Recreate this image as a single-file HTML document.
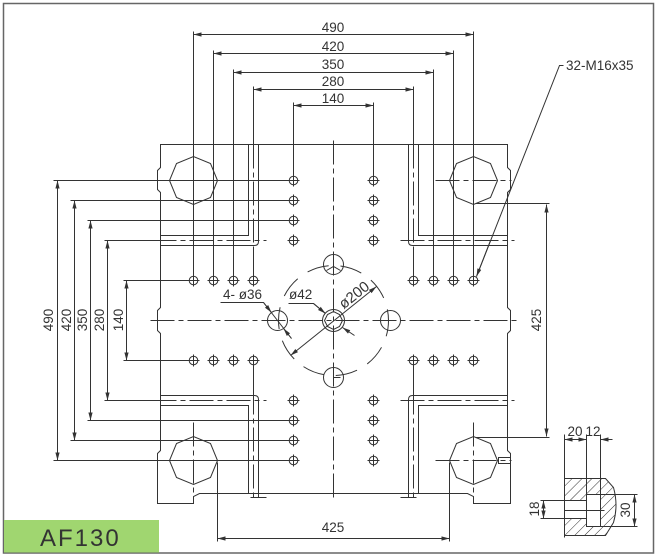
<!DOCTYPE html>
<html><head><meta charset="utf-8"><style>
html,body{margin:0;padding:0;background:#fff;}
svg{display:block;}
text{font-family:"Liberation Sans",Arial,sans-serif;fill:#333;stroke:none;}
</style></head><body>
<svg width="657" height="559" viewBox="0 0 657 559" xmlns="http://www.w3.org/2000/svg">
<defs>
<marker id="a" markerWidth="9" markerHeight="6" refX="8" refY="3" orient="auto-start-reverse" markerUnits="userSpaceOnUse"><path d="M0,0.9 L8,3 L0,5.1z" fill="#333"/></marker>
<pattern id="h" width="7" height="7" patternUnits="userSpaceOnUse" patternTransform="rotate(45)"><line x1="0" y1="0" x2="0" y2="7" stroke="#333" stroke-width="1"/></pattern>
<g id="hole" fill="none" stroke="#333" stroke-width="1"><circle r="4.3"/><path d="M-6,0H6M0,-6V6"/></g>
</defs>

<!-- frame -->
<rect x="3.5" y="3.5" width="650" height="549.5" fill="none" stroke="#666" stroke-width="1.5"/>
<rect x="4" y="520" width="155" height="32.5" fill="#a0d670"/>
<text x="40" y="546" font-size="24" letter-spacing="2" fill="#333">AF130</text>

<g transform="translate(0.5,0.5)" fill="none" stroke="#333" stroke-width="1">
<!-- plate outline -->
<path d="M160,144 H507 V167 L510,170 V189 L507,192 V307 L510,310 V330 L507,333 V450 L510,453 V503 H473 V496 L467,493 H199 L193,496 V503 H157 V453 L160,450 V333 L157,330 V310 L160,307 V192 L157,189 V170 L160,167 Z"/>
<!-- corner L slots -->
<path d="M258,144 V241 Q258,245 254,245 H160"/>
<path d="M248,144 V235 H160"/>
<path d="M258,497 V399 Q258,395 254,395 H160"/>
<path d="M248,493 V405 H160"/>
<path d="M408,144 V241 Q408,245 412,245 H507"/>
<path d="M418,144 V235 H507"/>
<path d="M408,497 V399 Q408,395 412,395 H507"/>
<path d="M418,493 V405 H507"/>
<path d="M250,497 H266 M400,497 H416"/>
<rect x="498" y="457" width="12" height="6"/>

<!-- centre lines -->
<g stroke-dasharray="24 4 5 4">
<path d="M152,240 H266 M400,240 H514 M152,400 H266 M400,400 H514"/>
<path d="M253,144 V250 M413,144 V250 M253,390 V497 M413,390 V497"/>
<path d="M150,320 H516"/>
<path d="M333,140 V500"/>
<path d="M435,180 H511 M435,460 H511 M193,422 V498 M473,422 V498"/>
</g>

<!-- tie bars -->
<polygon points="217,180 210,197 193,204 176,197 169,180 176,163 193,156 210,163"/>
<polygon points="497,180 490,197 473,204 456,197 449,180 456,163 473,156 490,163"/>
<polygon points="217,460 210,477 193,484 176,477 169,460 176,443 193,436 210,443"/>
<polygon points="497,460 490,477 473,484 456,477 449,460 456,443 473,436 490,443"/>

<!-- extension lines top -->
<path d="M193,31 V276 M213,50 V276 M233,69 V276 M253,86 V144 M253,250 V276 M293,102 V176 M373,102 V176 M413,86 V144 M413,250 V276 M433,69 V276 M453,50 V276 M473,31 V276"/>
<path d="M253,364 V390 M413,364 V390"/>
<!-- extension lines left -->
<path d="M53,180 H289 M70,200 H289 M87,220 H289 M104,240 H160 M123,280 H189 M123,360 H189 M104,400 H160 M87,420 H289 M70,440 H289 M53,460 H289"/>

<!-- top dims -->
<g marker-start="url(#a)" marker-end="url(#a)">
<line x1="193" y1="34" x2="473" y2="34"/>
<line x1="213" y1="53" x2="453" y2="53"/>
<line x1="233" y1="72" x2="433" y2="72"/>
<line x1="253" y1="89" x2="413" y2="89"/>
<line x1="293" y1="105" x2="373" y2="105"/>
<line x1="57" y1="180" x2="57" y2="460"/>
<line x1="74" y1="200" x2="74" y2="440"/>
<line x1="90" y1="220" x2="90" y2="420"/>
<line x1="107" y1="240" x2="107" y2="400"/>
<line x1="126" y1="280" x2="126" y2="360"/>
<line x1="546" y1="204" x2="546" y2="436"/>
<line x1="217" y1="538" x2="449" y2="538"/>
<line x1="290" y1="355" x2="376" y2="286"/>
<line x1="564" y1="439" x2="586" y2="439"/>
<line x1="543" y1="500" x2="543" y2="518"/>
<line x1="634" y1="494" x2="634" y2="526"/>
</g>
<path d="M475,203 H549 M475,437 H549 M217,462 V541 M449,462 V541"/>
<line x1="612" y1="439" x2="600" y2="439" marker-end="url(#a)"/>

<!-- holes -->
<use href="#hole" x="293" y="180"/><use href="#hole" x="293" y="200"/><use href="#hole" x="293" y="220"/><use href="#hole" x="293" y="240"/>
<use href="#hole" x="373" y="180"/><use href="#hole" x="373" y="200"/><use href="#hole" x="373" y="220"/><use href="#hole" x="373" y="240"/>
<use href="#hole" x="293" y="400"/><use href="#hole" x="293" y="420"/><use href="#hole" x="293" y="440"/><use href="#hole" x="293" y="460"/>
<use href="#hole" x="373" y="400"/><use href="#hole" x="373" y="420"/><use href="#hole" x="373" y="440"/><use href="#hole" x="373" y="460"/>
<use href="#hole" x="193" y="280"/><use href="#hole" x="213" y="280"/><use href="#hole" x="233" y="280"/><use href="#hole" x="253" y="280"/>
<use href="#hole" x="413" y="280"/><use href="#hole" x="433" y="280"/><use href="#hole" x="453" y="280"/><use href="#hole" x="473" y="280"/>
<use href="#hole" x="193" y="360"/><use href="#hole" x="213" y="360"/><use href="#hole" x="233" y="360"/><use href="#hole" x="253" y="360"/>
<use href="#hole" x="413" y="360"/><use href="#hole" x="433" y="360"/><use href="#hole" x="453" y="360"/><use href="#hole" x="473" y="360"/>

<!-- centre pattern -->
<circle cx="333" cy="320" r="55" stroke-dasharray="22 12" stroke-dashoffset="6"/>
<circle cx="333" cy="320" r="11"/>
<polygon points="342,320 339,326 333,329 327,326 324,320 327,314 333,311 339,314"/>
<circle cx="333" cy="264" r="10"/>
<path d="M326,270 L333,266 L340,270"/>
<circle cx="333" cy="377" r="10"/>
<path d="M333,377 V384 M333,377 H340"/>
<circle cx="277" cy="320" r="10"/>
<circle cx="390" cy="320" r="10"/>

<!-- leaders -->
<path d="M220,302 H263 L291,338"/>
<path d="M263,302 L271,312" marker-end="url(#a)"/>
<path d="M291,338 L283,328" marker-end="url(#a)"/>
<path d="M288,303 H313 L325,313"/>
<path d="M313,303 L325,313" marker-end="url(#a)"/>
<path d="M354,335 L342,327" marker-end="url(#a)"/>
<path d="M563,65 H559 L476,276"/>
<path d="M490,240 L476,276" marker-end="url(#a)"/>

<!-- section detail -->
<path d="M564,478 H605 L613,487 Q618,505 613,522 L605,535 H564 Z M564,500 H586 V494 H600 V526 H586 V518 H564 Z" fill="url(#h)" fill-rule="evenodd"/>
<path d="M564,434 V537 M586,434 V526 M600,434 V526 M540,500 H586 M540,518 H586 M600,494 H637 M600,526 H637 M564,510 H604"/>
</g>

<!-- labels -->
<g font-size="13.5" text-anchor="middle">
<text x="333" y="32">490</text>
<text x="333" y="51">420</text>
<text x="333" y="69">350</text>
<text x="333" y="86">280</text>
<text x="333" y="103">140</text>
<text transform="translate(53,320) rotate(-90)">490</text>
<text transform="translate(71,320) rotate(-90)">420</text>
<text transform="translate(87,320) rotate(-90)">350</text>
<text transform="translate(104,320) rotate(-90)">280</text>
<text transform="translate(123,320) rotate(-90)">140</text>
<text transform="translate(541,320) rotate(-90)">425</text>
<text x="333" y="532">425</text>
<text transform="translate(539,509) rotate(-90)">18</text>
<text transform="translate(630,510) rotate(-90)">30</text>
<text x="575" y="436">20</text>
<text x="593" y="436">12</text>
<text transform="translate(354,295) rotate(-38.4)" dy="5" font-size="15">ø200</text>
</g>
<text x="566" y="70" font-size="13.5">32-M16x35</text>
<text x="223" y="299" font-size="13.5">4- ø36</text>
<text x="289" y="299" font-size="13.5">ø42</text>
</svg>
</body></html>
